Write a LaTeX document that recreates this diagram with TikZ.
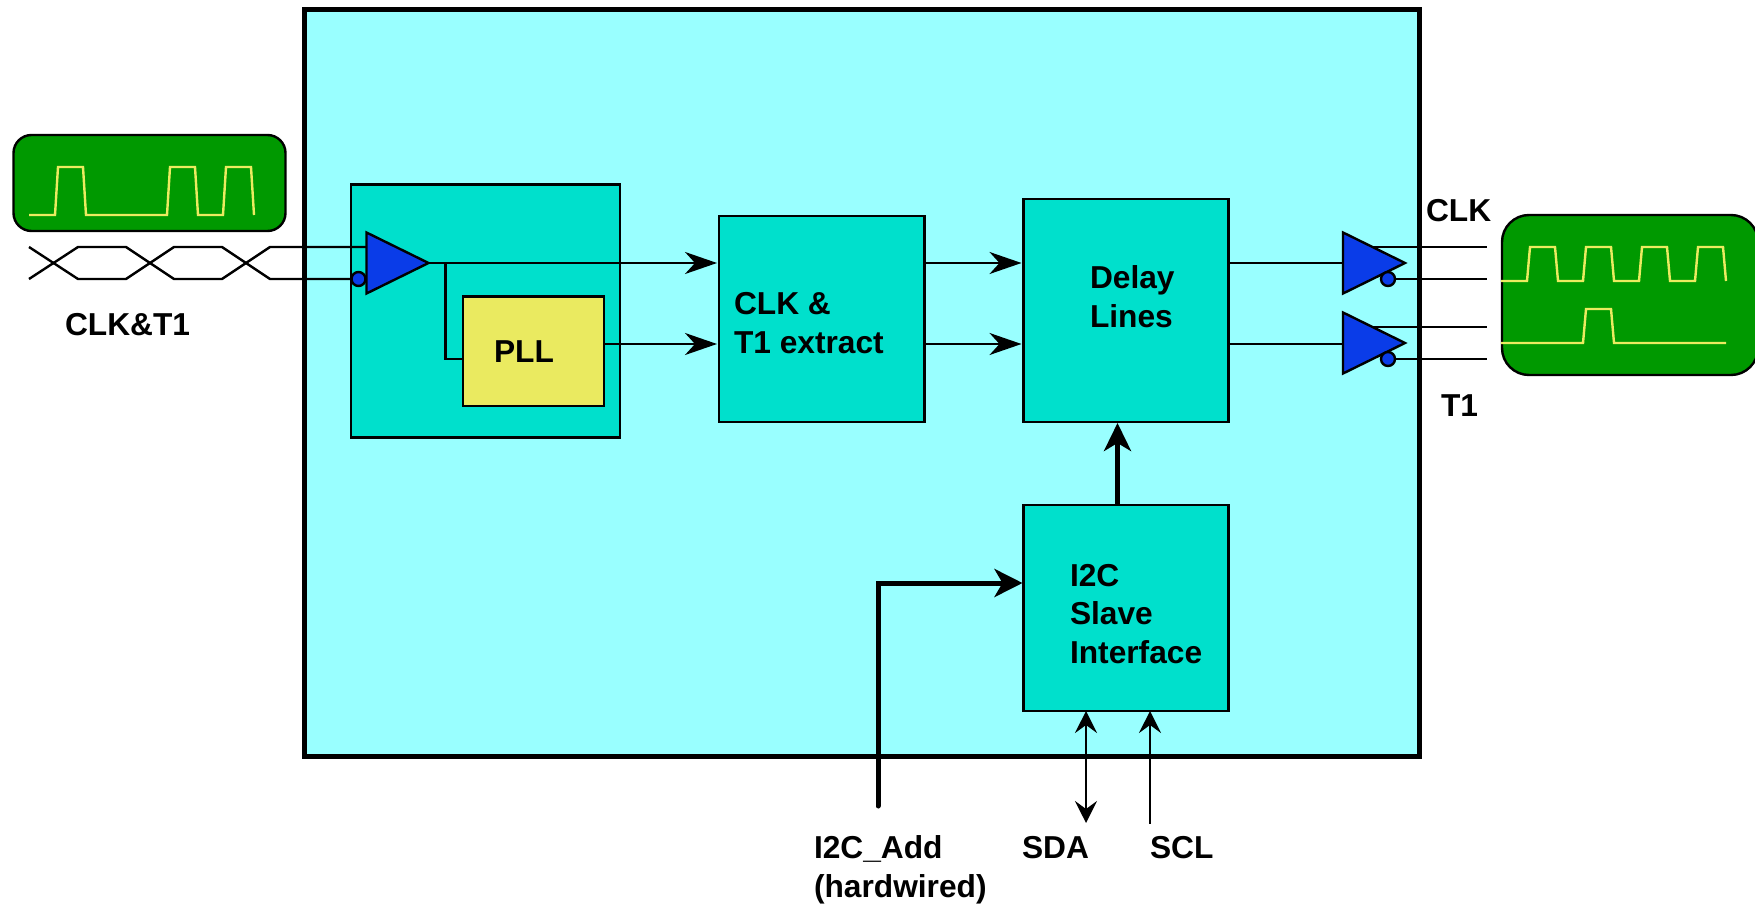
\documentclass[tikz,border=0pt]{standalone}
\usepackage{fontspec}
\setmainfont{Liberation Sans}
\usetikzlibrary{arrows.meta,shapes.geometric}
\definecolor{bgcyan}{RGB}{153,255,255}
\definecolor{blockc}{RGB}{0,224,204}
\definecolor{scope}{RGB}{0,153,0}
\definecolor{wave}{RGB}{235,235,96}
\definecolor{pllc}{RGB}{234,234,96}
\definecolor{bufc}{RGB}{10,60,232}
\tikzset{
  x=1pt,y=-1pt,
  wire/.style={line width=2.4pt,draw=black},
  sig/.style={wire,shorten >=2pt,-{Stealth[length=32pt,width=22pt,inset=10pt]}},
  thick wire/.style={line width=5pt,draw=black},
  blk/.style={rectangle,draw=black,line width=2.4pt,fill=blockc,inner sep=0pt,outer sep=0pt},
  pllbox/.style={blk,fill=pllc},
  buf/.style={isosceles triangle,isosceles triangle stretches,shape border rotate=0,draw=black,line width=2.4pt,fill=bufc,minimum width=61pt,minimum height=62pt,inner sep=0pt,outer sep=0pt,anchor=apex},
  bubble/.style={circle,draw=black,line width=2.4pt,fill=bufc,minimum size=14pt,inner sep=0pt,outer sep=0pt},
  scopebox/.style={rectangle,rounded corners=#1,draw=black,line width=2.4pt,fill=scope,inner sep=0pt,outer sep=0pt},
  trace/.style={line width=2.4pt,draw=wave,line join=miter},
  lbl/.style={font=\fontsize{31.7}{38.5}\selectfont\bfseries,inner sep=0pt,outer sep=0pt,anchor=base west,align=left},
}
\begin{document}
\begin{tikzpicture}
\useasboundingbox (0,0) rectangle (1755,904);
% chip
\node[rectangle,draw=black,line width=5pt,fill=bgcyan,minimum width=1115pt,minimum height=747pt,inner sep=0pt] (chip) at (861.5,383) {};
% scopes
\node[scopebox=18pt,minimum width=272pt,minimum height=96pt] (scopeL) at (149.5,183) {};
\node[scopebox=27pt,minimum width=256pt,minimum height=160pt] (scopeR) at (1630,295) {};
\draw[trace] (29,215)--(55,215)--(58,167)--(83,167)--(86,215)--(167,215)--(170,167)--(195,167)--(198,215)--(223,215)--(226,167)--(251,167)--(254,215);
\draw[trace] (1501,281)--(1527,281)--(1530,247)--(1555,247)--(1558,281)--(1583,281)--(1586,247)--(1611,247)--(1614,281)--(1639,281)--(1642,247)--(1667,247)--(1670,281)--(1695,281)--(1698,247)--(1723,247)--(1726,281);
\draw[trace] (1501,343)--(1583,343)--(1586,309)--(1611,309)--(1614,343)--(1726,343);
% blocks
\node[blk,minimum width=269pt,minimum height=253pt] (rx) at (485.5,311) {};
\node[pllbox,minimum width=141pt,minimum height=109.5pt] (pll) at (533.5,351.25) {};
\node[blk,minimum width=205.5pt,minimum height=206pt] (extract) at (821.75,319) {};
\node[blk,minimum width=205pt,minimum height=223pt] (delay) at (1126,310.5) {};
\node[blk,minimum width=205pt,minimum height=206pt] (i2c) at (1126,608) {};
% receive buffer
\coordinate (inA) at (29,247);
\coordinate (inB) at (29,279);
\node[buf] (rxbuf) at (428.5,263) {};
\node[bubble] (rxbub) at (358.5,279) {};
\draw[wire] (inA)--(78,279)--(126,279)--(174,247)--(222,247)--(270,279)--(rxbub.west);
\draw[wire] (inB)--(78,247)--(126,247)--(174,279)--(222,279)--(270,247)--(rxbuf.west |- inA);
% internal
\draw[sig] (rxbuf.apex)--(extract.west |- rxbuf.apex);
\draw[wire] (445.5,263)--(445.5,359)--(pll.west |- 0,359);
\draw[sig] (pll.east |- 0,344)--(extract.west |- 0,344);
\draw[sig] (extract.east |- 0,263)--(delay.west |- 0,263);
\draw[sig] (extract.east |- 0,344)--(delay.west |- 0,344);
% output buffers
\node[buf] (clkbuf) at (1405,263) {};
\node[buf] (t1buf) at (1405,343) {};
\draw[wire] (delay.east |- 0,263)--(clkbuf.west |- 0,263);
\draw[wire] (delay.east |- 0,344)--(t1buf.west |- 0,344);
\coordinate (clkP) at (1487,247);
\coordinate (clkN) at (1487,279);
\coordinate (t1P) at (1487,327);
\coordinate (t1N) at (1487,359);
\node[bubble] (clkbub) at (1388,279) {};
\node[bubble] (t1bub) at (1388,359) {};
\draw[wire] (1373,247)--(clkP);
\draw[wire] (clkbub.east)--(clkN);
\draw[wire] (1373,327)--(t1P);
\draw[wire] (t1bub.east)--(t1N);
% control
\draw[thick wire,shorten >=1pt,-{Stealth[length=28pt,width=27pt,inset=8pt]}] (i2c.north -| 1117.5,0)--(delay.south -| 1117.5,0);
\coordinate (addr) at (878,806);
\draw[thick wire,line cap=round,shorten >=1pt,-{Stealth[length=28pt,width=28pt,inset=8pt]}] (addr)--(878,583)--(i2c.west |- 0,583);
\coordinate (sdaEnd) at (1086,823);
\coordinate (sclEnd) at (1150,824);
\draw[wire,{Stealth[length=22pt,width=22pt,inset=8pt]}-{Stealth[length=22pt,width=22pt,inset=8pt]}] (i2c.south -| sdaEnd)--(sdaEnd);
\draw[wire,{Stealth[length=22pt,width=22pt,inset=8pt]}-] (i2c.south -| sclEnd)--(sclEnd);
% labels
\node[lbl] (tIn) at (65,335) {CLK\&T1};
\node[lbl] (tPll) at (494,362) {PLL};
\node[lbl] (tExt) at (734,353) {CLK \&\\T1 extract};
\node[lbl] (tDel) at (1090,327) {Delay\\Lines};
\node[lbl] (tI2c) at (1070,663) {I2C\\Slave\\Interface};
\node[lbl] (tClk) at (1426,222) {CLK};
\node[lbl] (tT1) at (1441,416) {T1};
\node[lbl] (tAdd) at (814,897) {I2C\_Add\\(hardwired)};
\node[lbl] (tSda) at (1022,858) {SDA};
\node[lbl] (tScl) at (1150,858) {SCL};
\end{tikzpicture}
\end{document}
